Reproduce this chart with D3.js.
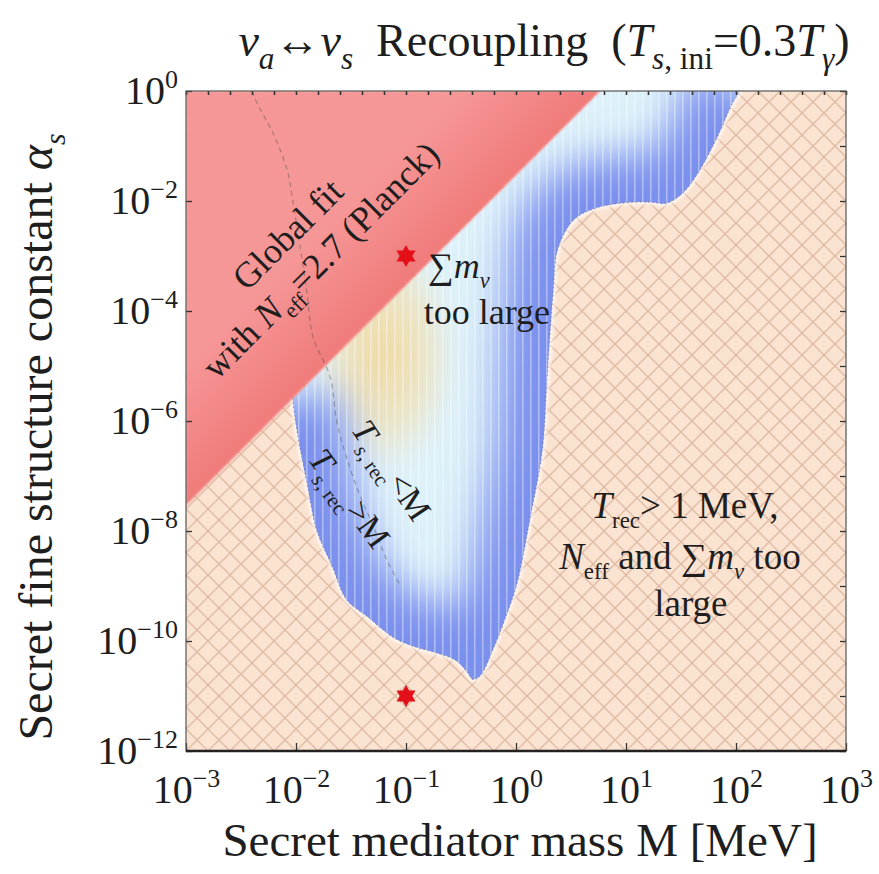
<!DOCTYPE html>
<html>
<head>
<meta charset="utf-8">
<script src="https://cdn.jsdelivr.net/npm/d3@7"></script>
<style>
body { margin: 0; background: #fff; }
svg text { font-family: "Liberation Serif", "Times New Roman", serif; fill: #1e1e1e; }
</style>
</head>
<body>
<svg id="chart" width="879" height="874"></svg>
<script>
// axis decades
var xDecades = [1e-3, 1e-2, 1e-1, 1e0, 1e1, 1e2, 1e3];
var yLabelled = [1e0, 1e-2, 1e-4, 1e-6, 1e-8, 1e-10, 1e-12];
var yAll = d3.range(0, 13).map(function (k) { return Math.pow(10, -k); });
var xTopTicks = d3.range(0, 31).map(function (k) { return Math.pow(10, -3 + 0.2 * k); });

// Planck global fit edge (straight in log-log)
var planckM = [1e-3, 5.8];
var planckAlpha = [2.95e-8, 1];

// edge of the allowed (coloured) region, log10 M and log10 alpha
var allowedLogM = [-2.03, -2.01, -1.96, -1.90, -1.81, -1.67, -1.54, -1.35, -1.12, -0.90,
    -0.72, -0.55, -0.45, -0.39, -0.32, -0.21, -0.10, 0.01, 0.13, 0.24,
    0.28, 0.31, 0.34, 0.37, 0.45, 0.55, 0.74, 0.95, 1.20, 1.37,
    1.52, 1.67, 1.83, 1.97, 2.04];
var allowedLogA = [-5.59, -5.93, -6.53, -7.13, -8.00, -8.65, -9.25, -9.56, -9.93, -10.12,
    -10.22, -10.35, -10.55, -10.70, -10.62, -10.16, -9.60, -8.95, -7.75, -6.53,
    -5.31, -4.40, -3.60, -2.95, -2.55, -2.30, -2.12, -2.04, -2.02, -2.04,
    -1.85, -1.44, -0.84, -0.22, 0.00];

// T_s,rec = M dashed line
var dashLogM = [-2.40, -2.355, -2.21, -2.08, -2.03, -1.945, -1.90, -1.845, -1.69, -1.63, -1.55, -1.43, -1.30, -1.18, -1.05];
var dashLogA = [0.00, -0.22, -0.76, -1.44, -1.98, -3.07, -3.67, -4.47, -5.20, -6.00, -6.60, -7.30, -7.90, -8.50, -9.00];

// benchmark points (red stars)
var starM = [0.1, 0.1];
var starAlpha = [1e-3, 1e-11];

var svg = d3.select("#chart");
var margin = {top: 91, right: 33, bottom: 123, left: 186};
var W = 660, H = 660;

var x = d3.scaleLog().domain([1e-3, 1e3]).range([0, W]);
var y = d3.scaleLog().domain([1e-12, 1]).range([H, 0]);

var pw = function (v) { return Math.pow(10, v); };
var allowedPts = allowedLogM.map(function (m, i) { return [pw(m), pw(allowedLogA[i])]; });
var dashPts = dashLogM.map(function (m, i) { return [pw(m), pw(dashLogA[i])]; });

var defs = svg.append("defs");

// crosshatch
var hatch = defs.append("pattern").attr("id", "hatch")
    .attr("patternUnits", "userSpaceOnUse").attr("width", 22).attr("height", 22);
hatch.append("rect").attr("width", 22).attr("height", 22).attr("fill", "#fbe3d1");
hatch.append("path").attr("d", "M0,0L22,22M22,0L0,22")
    .attr("stroke", "#dfbaa3").attr("stroke-width", 1.3).attr("fill", "none");

// vertical stripes in the density plot
var stripes = defs.append("pattern").attr("id", "stripes")
    .attr("patternUnits", "userSpaceOnUse").attr("width", 8).attr("height", 10);
stripes.append("rect").attr("width", 1.5).attr("height", 10).attr("fill", "#fff").attr("opacity", 0.4);

defs.append("clipPath").attr("id", "plotClip")
    .append("rect").attr("width", W).attr("height", H);

var blurBlue = defs.append("filter").attr("id", "blurBlue")
    .attr("x", "-30%").attr("y", "-30%").attr("width", "160%").attr("height", "160%");
blurBlue.append("feGaussianBlur").attr("stdDeviation", 20);
var blurSoft = defs.append("filter").attr("id", "blurSoft")
    .attr("x", "-10%").attr("y", "-10%").attr("width", "120%").attr("height", "120%");
blurSoft.append("feGaussianBlur").attr("stdDeviation", 1.3);
var blurYel = defs.append("filter").attr("id", "blurYel")
    .attr("x", "-50%").attr("y", "-50%").attr("width", "200%").attr("height", "200%");
blurYel.append("feGaussianBlur").attr("stdDeviation", 12);

var yel = defs.append("radialGradient").attr("id", "yelGrad");
yel.append("stop").attr("offset", "0%").attr("stop-color", "#f2d9a0").attr("stop-opacity", 1);
yel.append("stop").attr("offset", "60%").attr("stop-color", "#f1dfb0").attr("stop-opacity", 0.7);
yel.append("stop").attr("offset", "100%").attr("stop-color", "#f1e4c0").attr("stop-opacity", 0);

// red gradient, a bit deeper next to the edge
var p1 = [x(planckM[0]), y(planckAlpha[0])], p2 = [x(planckM[1]), y(planckAlpha[1])];
var mid = [(p1[0] + p2[0]) / 2, (p1[1] + p2[1]) / 2];
var redGrad = defs.append("linearGradient").attr("id", "redGrad")
    .attr("gradientUnits", "userSpaceOnUse")
    .attr("x1", mid[0]).attr("y1", mid[1])
    .attr("x2", mid[0] - 70).attr("y2", mid[1] - 70);
redGrad.append("stop").attr("offset", "0%").attr("stop-color", "#f07a7a");
redGrad.append("stop").attr("offset", "100%").attr("stop-color", "#f69797");

var g = svg.append("g").attr("transform", "translate(" + margin.left + "," + margin.top + ")");
var plot = g.append("g").attr("clip-path", "url(#plotClip)");

// excluded background
plot.append("rect").attr("width", W).attr("height", H).attr("fill", "url(#hatch)");

var line = d3.line().x(function (d) { return x(d[0]); }).y(function (d) { return y(d[1]); });
var curve = d3.line().x(function (d) { return x(d[0]); }).y(function (d) { return y(d[1]); })
    .curve(d3.curveCatmullRom.alpha(0.5));

var edgePath = curve(allowedPts);
var regionPath = edgePath + "L" + x(planckM[1]) + "," + y(planckAlpha[1]) + "Z";

defs.append("clipPath").attr("id", "allowedClip").append("path").attr("d", regionPath);

// light halo on the hatched side
plot.append("path").attr("d", edgePath).attr("fill", "none")
    .attr("stroke", "#fff").attr("stroke-width", 6).attr("opacity", 0.6)
    .attr("filter", "url(#blurSoft)");

var allowed = plot.append("g").attr("clip-path", "url(#allowedClip)");
allowed.append("path").attr("d", regionPath).attr("fill", "#ddf1fa");
allowed.append("ellipse")
    .attr("cx", x(pw(-1.2))).attr("cy", y(pw(-4.8)))
    .attr("rx", 72).attr("ry", 120)
    .attr("fill", "url(#yelGrad)").attr("filter", "url(#blurYel)");
allowed.append("path").attr("d", edgePath).attr("fill", "none")
    .attr("stroke", "#7a90ee").attr("stroke-width", 96)
    .attr("filter", "url(#blurBlue)");
allowed.append("rect").attr("width", W).attr("height", H).attr("fill", "url(#stripes)");

plot.append("path").attr("d", edgePath).attr("fill", "none")
    .attr("stroke", "#3a3a55").attr("stroke-width", 1).attr("stroke-dasharray", "1.2,3")
    .attr("opacity", 0.5);

// Planck region
var redPts = [[planckM[0], 1], [planckM[1], planckAlpha[1]], [planckM[0], planckAlpha[0]]];
plot.append("path").attr("d", line(redPts) + "Z")
    .attr("fill", "url(#redGrad)").attr("filter", "url(#blurSoft)");

// dashed T_s,rec = M line
plot.append("path").attr("d", curve(dashPts)).attr("fill", "none")
    .attr("stroke", "#4a4a4a").attr("stroke-width", 1.1)
    .attr("stroke-dasharray", "5,4").attr("opacity", 0.45);

// rich text helper
function rich(sel, segs, size, subScale) {
    var shift = 0, k = subScale || 0.62;
    segs.forEach(function (s) {
        var target = s.sub ? 0.28 * size : 0;
        var ts = sel.append("tspan").text(s.t)
            .attr("font-size", s.sub ? size * k : size)
            .attr("dy", target - shift);
        if (s.i) ts.attr("font-style", "italic");
        shift = target;
    });
}

function label(pos, segs, size, angle) {
    var t = g.append("text")
        .attr("transform", "translate(" + x(pw(pos[0])) + "," + y(pw(pos[1])) + ") rotate(" + (angle || 0) + ")")
        .attr("text-anchor", "middle")
        .attr("y", size * 0.35)
        .style("white-space", "pre");
    rich(t, segs, size);
    return t;
}

label([-2.08, -2.60], [{t: "Global fit"}], 36, -45);
label([-1.78, -3.07], [{t: "with "}, {t: "N", i: 1}, {t: "eff", sub: 1}, {t: "=2.7 (Planck)"}], 36, -45);
label([-0.52, -3.17], [{t: "\u2211"}, {t: "m", i: 1}, {t: "\u03bd", i: 1, sub: 1}], 36);
label([-0.264, -4.0], [{t: "too large"}], 36);
label([1.536, -7.53], [{t: "T", i: 1}, {t: "rec", sub: 1}, {t: "> 1 MeV,"}], 37);
label([1.49, -8.45], [{t: "N", i: 1}, {t: "eff", sub: 1}, {t: " and \u2211"}, {t: "m", i: 1}, {t: "\u03bd", i: 1, sub: 1}, {t: " too"}], 37);
label([1.59, -9.31], [{t: "large"}], 37);
label([-1.127, -6.89], [{t: "T", i: 1}, {t: "s", i: 1, sub: 1}, {t: ", rec", sub: 1}, {t: "<M"}], 34, 56);
label([-1.509, -7.40], [{t: "T", i: 1}, {t: "s", i: 1, sub: 1}, {t: ", rec", sub: 1}, {t: ">M"}], 34, 54);

// benchmark stars
function hexagram(r) {
    var pts = [];
    for (var k = 0; k < 12; k++) {
        var a = Math.PI / 6 * k - Math.PI / 2, rr = k % 2 ? r * 0.58 : r;
        pts.push([rr * Math.cos(a), rr * Math.sin(a)]);
    }
    return "M" + pts.join("L") + "Z";
}
g.selectAll(".star").data(starM).enter().append("path")
    .attr("class", "star")
    .attr("d", hexagram(11))
    .attr("transform", function (d, i) { return "translate(" + x(d) + "," + y(starAlpha[i]) + ")"; })
    .attr("fill", "#e3101a");

// axes
function fmtExp(v) {
    var e = Math.round(Math.log10(v));
    return e < 0 ? "\u2212" + (-e) : "" + e;
}
function powLabels(sel) {
    sel.selectAll(".tick text").each(function (d) {
        var t = d3.select(this);
        t.text(null);
        t.append("tspan").text("10");
        t.append("tspan").attr("font-size", 26).attr("dy", -16).text(fmtExp(d));
    });
}
function styleAxis(sel) {
    sel.attr("font-size", 40).attr("font-family", null);
    sel.select(".domain").remove();
    sel.selectAll(".tick line").attr("stroke", "#333").attr("stroke-width", 1.3);
}

var gx = g.append("g").attr("transform", "translate(0," + H + ")")
    .call(d3.axisBottom(x).tickValues(xDecades).tickSizeInner(-8).tickSizeOuter(0).tickPadding(24));
styleAxis(gx); powLabels(gx);

var gy = g.append("g")
    .call(d3.axisLeft(y).tickValues(yLabelled).tickSizeInner(-6).tickSizeOuter(0).tickPadding(8));
styleAxis(gy); powLabels(gy);

var gr = g.append("g").attr("transform", "translate(" + W + ",0)")
    .call(d3.axisRight(y).tickValues(yAll).tickSizeInner(-6).tickSizeOuter(0).tickFormat(""));
styleAxis(gr);

var gt = g.append("g")
    .call(d3.axisTop(x).tickValues(xTopTicks).tickSizeInner(-4).tickSizeOuter(0).tickFormat(""));
styleAxis(gt);
gt.selectAll(".tick line").attr("stroke-width", 1.6);

g.append("rect").attr("width", W).attr("height", H)
    .attr("fill", "none").attr("stroke", "#555").attr("stroke-width", 1.2);
g.append("line").attr("x1", 0).attr("x2", W).attr("y1", H).attr("y2", H)
    .attr("stroke", "#222").attr("stroke-width", 2.5);

// axis titles
svg.append("text").attr("x", margin.left + W / 2 + 4).attr("y", 856)
    .attr("text-anchor", "middle").attr("font-size", 47)
    .text("Secret mediator mass M [MeV]");

var yt = svg.append("text")
    .attr("transform", "translate(52," + (margin.top + H / 2 + 16) + ") rotate(-90)")
    .attr("text-anchor", "middle");
rich(yt, [{t: "Secret fine structure constant "}, {t: "\u03b1", i: 1}, {t: "s", i: 1, sub: 1}], 48);

// title
var title = svg.append("text").attr("x", 544).attr("y", 56)
    .attr("text-anchor", "middle").style("white-space", "pre");
rich(title, [
    {t: "\u03bd", i: 1}, {t: "a", i: 1, sub: 1}, {t: "\u2194"}, {t: "\u03bd", i: 1}, {t: "s", i: 1, sub: 1},
    {t: "  Recoupling  ("}, {t: "T", i: 1}, {t: "s", i: 1, sub: 1}, {t: ", ini", sub: 1},
    {t: "=0.3"}, {t: "T", i: 1}, {t: "\u03b3", i: 1, sub: 1}, {t: ")"}
], 46, 0.68);
</script>
</body>
</html>
